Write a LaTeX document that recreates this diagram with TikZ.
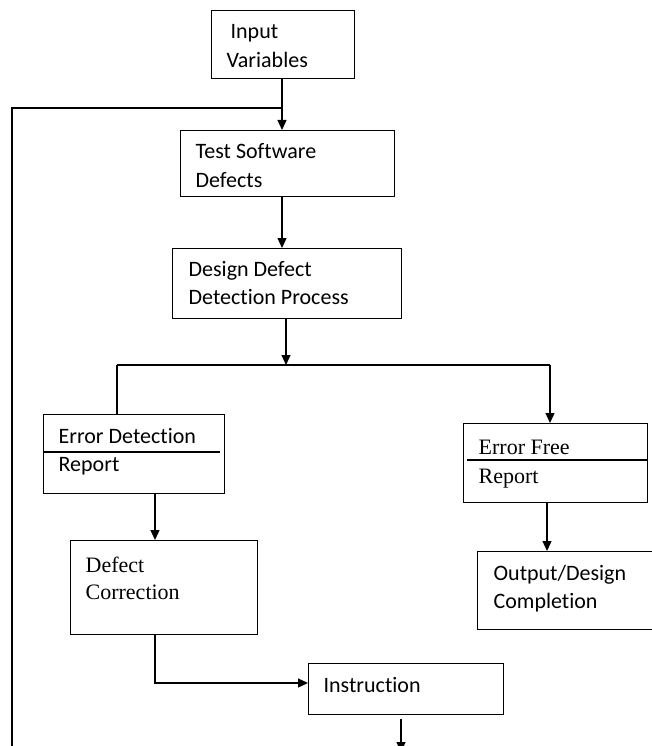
\documentclass[tikz,border=0pt]{standalone}
\usepackage{fontspec}
\setmainfont{Carlito}[Ligatures={NoCommon}]
\newfontfamily\calibrifont{Carlito}[Ligatures={NoCommon}]
\newfontfamily\timesfont{Liberation Serif}
\usetikzlibrary{arrows.meta}

\begin{document}
\begin{tikzpicture}[x=1pt,y=-1pt,
  line width=1.3pt,
  box/.style={draw, rectangle, inner sep=0pt, anchor=north west},
  lbl/.style={anchor=base west, inner sep=0pt, font=\calibrifont\fontsize{22}{26}\selectfont},
  slbl/.style={anchor=base west, inner sep=0pt, font=\timesfont\fontsize{22}{26}\selectfont},
  arr/.style={-{Triangle[length=10pt,width=9pt]}}
]
\useasboundingbox (0,0) rectangle (651,746);

% boxes: top-left corner, width, height
\node[box, minimum width=143pt, minimum height=68pt] (inp) at (211,10) {};
\node[box, minimum width=214pt, minimum height=66pt] (test) at (180,130) {};
\node[box, minimum width=229pt, minimum height=70pt] (design) at (172,248) {};
\node[box, minimum width=181pt, minimum height=79pt] (errdet) at (43,414) {};
\node[box, minimum width=184pt, minimum height=79pt] (errfree) at (463,423) {};
\node[box, minimum width=187pt, minimum height=94pt] (defcorr) at (70,540) {};
\node[box, minimum width=210pt, minimum height=78pt] (output) at (477,551) {};
\node[box, minimum width=195pt, minimum height=51pt] (instr) at (308,663) {};

% dividers inside the report boxes
\draw (errdet.west |- 0,452) -- (220,452);
\draw (467,460) -- (errfree.east |- 0,460);

% box texts
\node[lbl] (tinp1) at (230,39) {Input};
\node[lbl] (tinp2) at (226,68) {Variables};
\node[lbl] (ttest1) at (195,159) {Test Software};
\node[lbl] (ttest2) at (195,187) {Defects};
\node[lbl] (tdes1) at (188,276) {Design Defect};
\node[lbl] (tdes2) at (188,304) {Detection Process};
\node[lbl] (ted1) at (58,443) {Error Detection};
\node[lbl] (ted2) at (58,471) {Report};
\node[slbl] (tef1) at (478,454) {Error Free};
\node[slbl] (tef2) at (478,483) {Report};
\node[slbl] (tdc1) at (85,572) {Defect};
\node[slbl] (tdc2) at (85,599) {Correction};
\node[lbl] (tout1) at (493,580) {Output/Design};
\node[lbl] (tout2) at (493,608) {Completion};
\node[lbl] (tins) at (323,692) {Instruction};

% connector points
\coordinate (join) at (282,108);
\coordinate (loopbot) at (12,760);
\coordinate (split) at (286,365);
\coordinate (splitL) at (117,365);
\coordinate (splitR) at (550,365);
\coordinate (corner) at (155,683);
\coordinate (outstart) at (401,719);
\coordinate (outend) at (401,752);

% main flow
\draw[arr] (inp.south -| join) -- (join |- test.north);
\draw (loopbot) -- (loopbot |- join) -- (join);
\draw[arr] (join |- test.south) -- (join |- design.north);
\draw[arr] (split |- design.south) -- (split);
\draw (splitL) -- (splitR);
\draw (splitL) -- (splitL |- errdet.north);
\draw[arr] (splitR) -- (splitR |- errfree.north);
\draw[arr] (corner |- errdet.south) -- (corner |- defcorr.north);
\draw[arr] (547,502) -- (547,551);
\draw[arr] (corner |- defcorr.south) -- (corner) -- (instr.west |- corner);
\draw[arr] (outstart) -- (outend);
\end{tikzpicture}
\end{document}
